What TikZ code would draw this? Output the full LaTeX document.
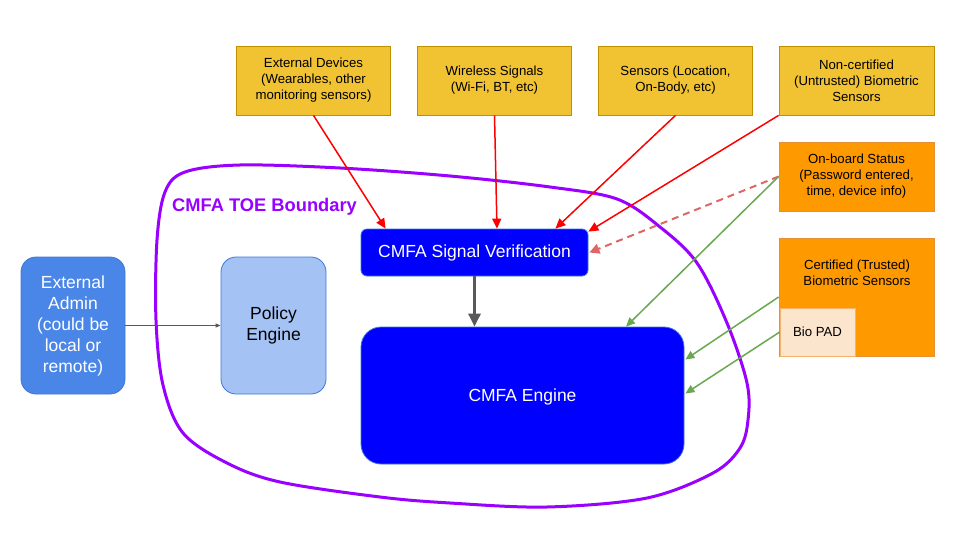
\documentclass[tikz,border=0pt]{standalone}
\usepackage{fontspec}
\setmainfont{Liberation Sans}
\usetikzlibrary{arrows.meta,calc}
\definecolor{ybox}{HTML}{F1C232}
\definecolor{yline}{HTML}{BF9000}
\definecolor{obox}{HTML}{FF9900}
\definecolor{oline}{HTML}{E69138}
\definecolor{pbox}{HTML}{FCE5CD}
\definecolor{pline}{HTML}{F6B26B}
\definecolor{admfill}{HTML}{4A86E8}
\definecolor{polfill}{HTML}{A4C2F4}
\definecolor{bline}{HTML}{3C78D8}
\definecolor{cmfa}{HTML}{0000FF}
\definecolor{toe}{HTML}{9900FF}
\definecolor{redline}{HTML}{FF0000}
\definecolor{dashred}{HTML}{E06666}
\definecolor{greenline}{HTML}{6AA84F}
\definecolor{greyline}{HTML}{595959}
\tikzset{
  smallfont/.style={font=\fontsize{13.2}{16}\selectfont},
  bigfont/.style={font=\fontsize{17.5}{21}\selectfont},
  srcbox/.style={draw=yline, fill=ybox, line width=0.8pt, smallfont, align=center, inner sep=0pt, text=black, minimum width=154pt, minimum height=69pt},
  orgbox/.style={draw=oline, fill=obox, line width=0.8pt, smallfont, align=center, inner sep=0pt, text=black, minimum width=155pt},
  padbox/.style={draw=pline, fill=pbox, line width=0.6pt, smallfont, align=center, inner sep=0pt, text=black, minimum width=75pt, minimum height=48pt},
  bluebox/.style={draw=bline, fill=cmfa, line width=0.8pt, text=white, align=center, inner sep=0pt},
  sidebox/.style={draw=bline, line width=0.8pt, rounded corners=15pt, bigfont, align=center, inner sep=0pt, minimum width=104pt, minimum height=137pt},
  redarrow/.style={draw=redline, line width=1.5pt, -{Triangle[length=10pt,width=9pt]}},
  dasharrow/.style={draw=dashred, line width=2pt, dash pattern=on 7pt off 5pt, -{Triangle[length=10pt,width=10pt]}},
  greenarrow/.style={draw=greenline, line width=1.5pt, -{Triangle[length=9pt,width=8pt]}},
  boundary/.style={draw=toe, line width=3pt},
}
\begin{document}
\begin{tikzpicture}[x=1pt,y=-1pt]
\useasboundingbox (0,0) rectangle (960,540);
\fill[white] (0,0) rectangle (960,540);

% boundary
\draw[boundary] plot[smooth cycle, tension=0.55] coordinates {
 (185,172) (240,165) (340,168) (450,176) (550,187) (617,199) (660,227) (697,263)
 (727,323) (747,383) (748,420) (740,448) (713,473) (647,498) (547,507) (450,503)
 (380,497) (280,482) (227,463) (183,433) (163,385) (156,320) (157,240) (165,192)};
\node[text=toe, font=\fontsize{18.3}{22}\bfseries\selectfont, inner sep=0pt] (toelabel) at (264.5,207) {CMFA TOE Boundary};

% source boxes
\node[srcbox] (ext) at (313.5,80.5) {External Devices\\(Wearables, other\\monitoring sensors)};
\node[srcbox] (wire) at (494.5,80.5) {Wireless Signals\\(Wi-Fi, BT, etc)};
\node[srcbox] (sens) at (675.5,80.5) {Sensors (Location,\\On-Body, etc)};
\node[srcbox, minimum width=155pt] (noncert) at (856.5,80.5) {Non-certified\\(Untrusted) Biometric\\Sensors};
\node[orgbox, minimum height=69pt] (onboard) at (856.5,176.5) {On-board Status\\(Password entered,\\time, device info)};
\node[orgbox, minimum height=118pt] (cert) at (856.5,297) {};
\node[smallfont, align=center, inner sep=0pt] (certtxt) at (857,273) {Certified (Trusted)\\Biometric Sensors};
\node[padbox] (biopad) at (817.5,332) {Bio PAD};

% CMFA boxes
\node[bluebox, rounded corners=6pt, minimum width=227pt, minimum height=47pt, font=\fontsize{17.5}{21}\selectfont] (sigver) at (474.5,252.5) {CMFA Signal Verification};
\node[bluebox, rounded corners=20pt, minimum width=323pt, minimum height=137pt] (engine) at (522.5,395.5) {};
\node[text=white, font=\fontsize{17.5}{21}\selectfont, inner sep=0pt] (enginetxt) at (522.5,397) {CMFA Engine};

% side boxes
\node[sidebox, fill=admfill, text=white] (admin) at (73,325.5) {External\\Admin\\(could be\\local or\\remote)};
\node[sidebox, fill=polfill, text=black, minimum width=105pt] (policy) at (273.5,325.5) {Policy\\Engine};

% connectors
\draw[greyline, line width=1pt, -{Triangle[length=5pt,width=4pt]}] (admin.east) -- (policy.west);
\draw[greyline, line width=3pt, -{Triangle[length=13pt,width=12pt]}] (sigver.south) -- (sigver.south |- engine.north);

\draw[redarrow] (ext.south) -- ($(sigver.north west)+(25,0)$);
\draw[redarrow] (wire.south) -- ($(sigver.north)+(22.5,0)$);
\draw[redarrow] (sens.south) -- ($(sigver.north east)+(-33,0)$);
\draw[redarrow] (noncert.south west) -- ($(sigver.north east)+(0,3)$);

\draw[dasharrow] (onboard.west) -- ($(sigver.east)+(1,0)$);
\draw[greenarrow] (onboard.west) -- ($(engine.north)+(103.5,0)$);
\draw[greenarrow] (cert.west) -- ($(engine.east)+(1,-36)$);
\draw[greenarrow] (biopad.west) -- ($(engine.east)+(1,-2)$);
\end{tikzpicture}
\end{document}
